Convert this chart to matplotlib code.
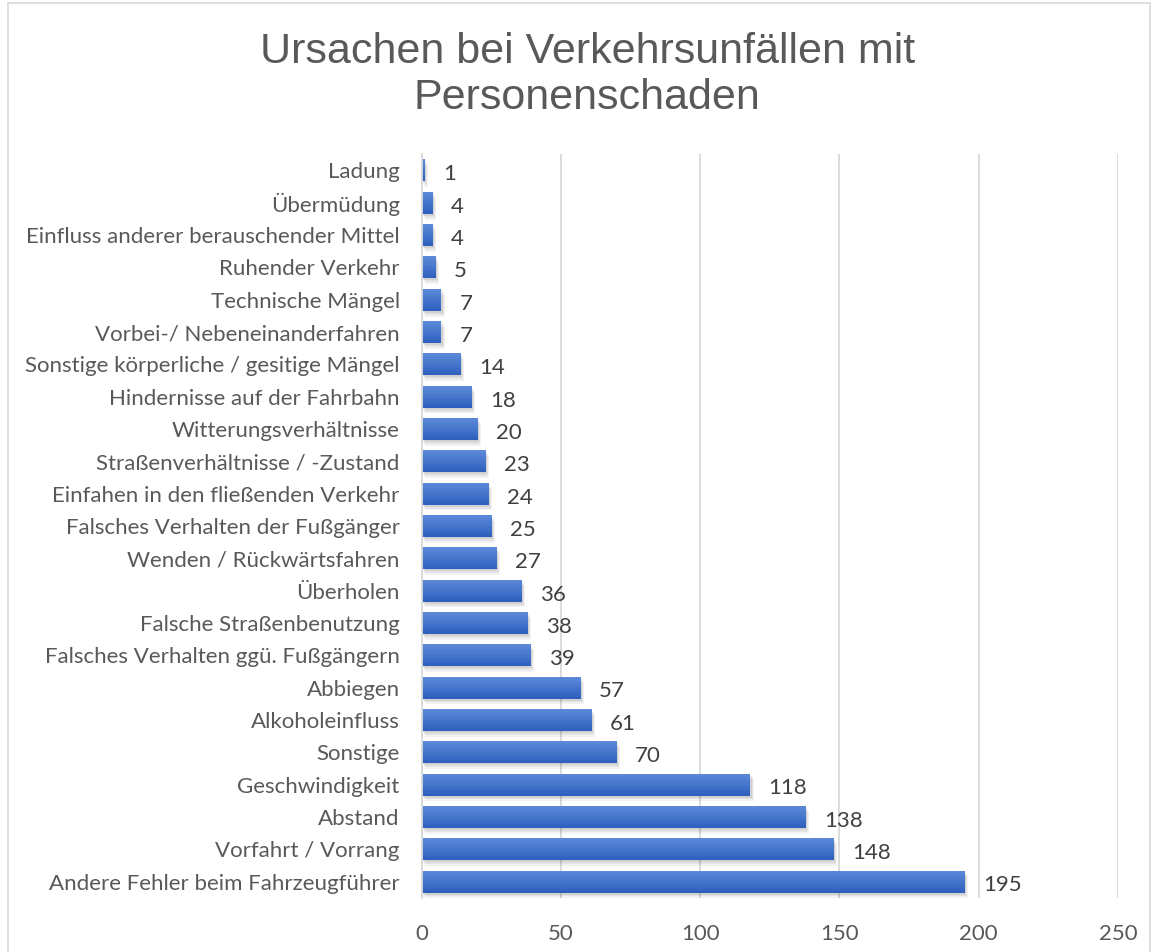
import matplotlib
matplotlib.use("Agg")
import matplotlib.pyplot as plt
import numpy as np
from matplotlib.patches import Rectangle
from matplotlib.colors import LinearSegmentedColormap

categories = [
    "Ladung", "Übermüdung", "Einfluss anderer berauschender Mittel",
    "Ruhender Verkehr", "Technische Mängel", "Vorbei-/ Nebeneinanderfahren",
    "Sonstige körperliche / gesitige Mängel", "Hindernisse auf der Fahrbahn",
    "Witterungsverhältnisse", "Straßenverhältnisse / -Zustand",
    "Einfahen in den fließenden Verkehr", "Falsches Verhalten der Fußgänger",
    "Wenden / Rückwärtsfahren", "Überholen", "Falsche Straßenbenutzung",
    "Falsches Verhalten ggü. Fußgängern", "Abbiegen", "Alkoholeinfluss",
    "Sonstige", "Geschwindigkeit", "Abstand", "Vorfahrt / Vorrang",
    "Andere Fehler beim Fahrzeugführer",
]
values = [1, 4, 4, 5, 7, 7, 14, 18, 20, 23, 24, 25, 27, 36, 38, 39, 57, 61, 70, 118, 138, 148, 195]
xticks = [0, 50, 100, 150, 200, 250]
title = "Ursachen bei Verkehrsunfällen mit\nPersonenschaden"

plt.rcParams['font.family'] = ['Lato', 'DejaVu Sans']
txt = "#595959"
fs = 16

fig = plt.figure(figsize=(11.56, 9.52), dpi=100)
ax = fig.add_axes([0.365, 0.057, 0.602, 0.781])

n = len(categories)
y = np.arange(n)
vals = np.array(values)
h = 0.68

cmap = LinearSegmentedColormap.from_list("g", ["#5C88D8", "#4676CB", "#2F5EBE"])

# soft shadow below/right of each bar
for k, a in [(1.2, 0.05), (0.8, 0.06), (0.4, 0.08)]:
    ax.barh(y + 0.06 * k / 0.4, vals + 0 * k, left=k, height=h,
            color="#000000", alpha=a, zorder=2, linewidth=0)

# vertical gradient built from thin slices: light at top, dark at bottom
nslice = 16
for i in range(nslice):
    yc = y - h / 2 + (i + 0.5) * h / nslice
    ax.barh(yc, vals, height=h / nslice * 1.05, color=cmap(i / (nslice - 1)),
            linewidth=0, zorder=3)

for yi, v in zip(y, values):
    ax.text(v + 6.5, yi + 0.12, str(v), va="center", ha="left",
            fontsize=fs, color="#404040", zorder=5)

ax.set_xlim(0, 250)
ax.set_ylim(n - 0.5, -0.5)
ax.set_xticks(xticks)
ax.set_xticklabels([str(t) for t in xticks], fontsize=fs, color=txt)
ax.set_yticks(y)
ax.set_yticklabels(categories, fontsize=fs, color=txt)
ax.tick_params(axis="both", length=0)
ax.tick_params(axis="x", pad=19)
ax.tick_params(axis="y", pad=16)
ax.grid(axis="x", color="#D9D9D9", linewidth=1.3, zorder=0)
ax.set_axisbelow(True)
for s in ["top", "right", "bottom"]:
    ax.spines[s].set_visible(False)
ax.spines["left"].set_color("#D9D9D9")
ax.spines["left"].set_linewidth(1.3)
ax.spines["left"].set_zorder(6)

fig.text(0.508, 0.921, title, ha="center", va="center", fontsize=31,
         color=txt, family=["Liberation Sans", "DejaVu Sans"], linespacing=1.2)

fig.patches.append(Rectangle((8 / 1156, -0.1), 1142 / 1156, 1.1 - 3 / 952,
                             transform=fig.transFigure, fill=False,
                             edgecolor="#D9D9D9", linewidth=1.2))

fig.savefig("out.png", dpi=100, facecolor="white")
